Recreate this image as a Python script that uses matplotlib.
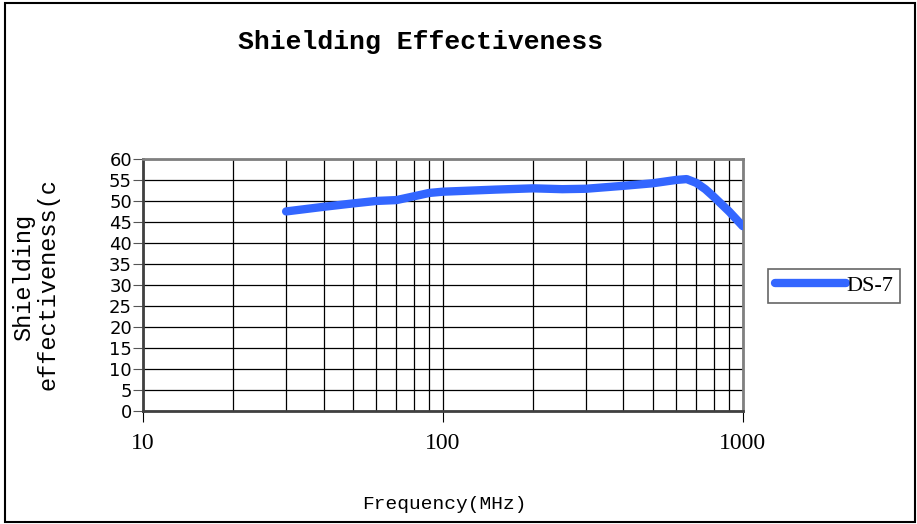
import numpy as np
import matplotlib.pyplot as plt
from matplotlib.patches import Rectangle

# values
freq = [30, 40, 50, 60, 70, 80, 90, 100, 150, 200, 250, 300, 400, 500, 600, 650, 700, 750, 800, 900, 1000]
se_ds7 = [47.5, 48.6, 49.4, 50.0, 50.2, 51.1, 51.9, 52.2, 52.7, 53.0, 52.8, 52.9, 53.6, 54.2, 55.0, 55.2, 54.3, 52.8, 51.0, 47.5, 44.0]
y_ticks = list(range(0, 61, 5))
x_ticks = [10, 100, 1000]

fig = plt.figure(figsize=(9.17, 5.24), dpi=100)
fig.patches.append(Rectangle((0.005, 0.004), 0.993, 0.99, transform=fig.transFigure,
                             fill=False, edgecolor='black', linewidth=1.5))

ax = fig.add_axes([0.156, 0.2157, 0.654, 0.481])
ax.set_xscale('log')
ax.set_xlim(10, 1000)
ax.set_ylim(0, 60)

ax.plot(freq, se_ds7, color='#3366FF', linewidth=6, solid_capstyle='round',
        solid_joinstyle='round', label='DS-7', clip_on=True, zorder=3)

ax.set_yticks(y_ticks)
ax.set_yticklabels([str(v) for v in y_ticks], fontsize=13, family='DejaVu Sans')
ax.set_xticks(x_ticks)
ax.set_xticklabels([str(v) for v in x_ticks], fontsize=17, family='Liberation Serif')
ax.tick_params(axis='x', which='major', direction='out', length=8, pad=8, color='black')
ax.tick_params(axis='x', which='minor', direction='in', length=3, color='black')
ax.tick_params(axis='y', direction='out', length=7, pad=1, color='#555555')
ax.minorticks_on()
ax.yaxis.set_minor_locator(plt.NullLocator())

ax.grid(True, which='both', axis='x', color='black', linewidth=0.9)
ax.grid(True, which='major', axis='y', color='black', linewidth=0.9)
ax.set_axisbelow(True)
for side in ['top', 'right']:
    ax.spines[side].set_color('#808080')
    ax.spines[side].set_linewidth(2)
for side in ['left', 'bottom']:
    ax.spines[side].set_color('#404040')
    ax.spines[side].set_linewidth(2)

fig.text(0.459, 0.92, 'Shielding Effectiveness', ha='center', va='center',
         fontsize=19, fontweight='bold', family='Liberation Mono')
fig.text(0.026, 0.47, 'Shielding', rotation=90, ha='center', va='center',
         fontsize=17, family='Liberation Mono')
fig.text(0.052, 0.458, 'effectiveness(c', rotation=90, ha='center', va='center',
         fontsize=17, family='Liberation Mono')
fig.text(0.485, 0.038, 'Frequency(MHz)', ha='center', va='center',
         fontsize=14, family='Liberation Mono')

leg = ax.legend(loc='center left', bbox_to_anchor=(0.838, 0.455), bbox_transform=fig.transFigure,
                prop={'family': 'Liberation Serif', 'size': 16}, frameon=True, fancybox=False,
                handlelength=3.2, handletextpad=0.0, borderpad=0.3, borderaxespad=0)
leg.get_frame().set_edgecolor('#404040')
leg.get_frame().set_linewidth(1.2)

fig.savefig('out.png', dpi=100)
